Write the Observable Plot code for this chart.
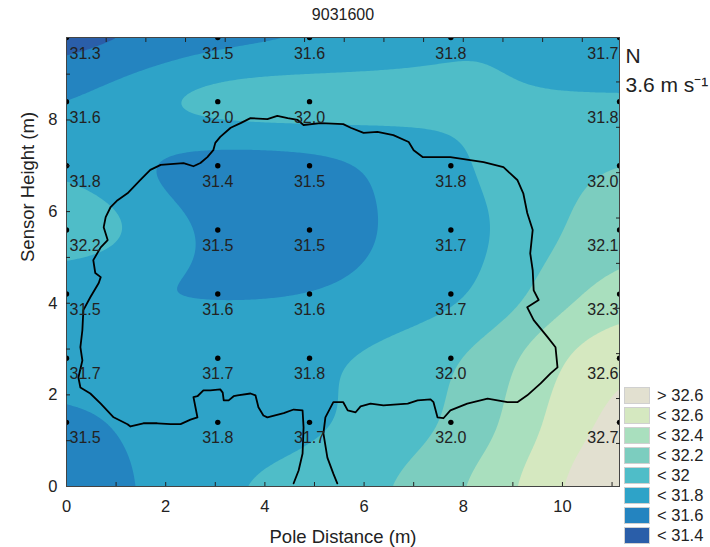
<!DOCTYPE html>
<html><head><meta charset="utf-8">
<script src="https://cdn.jsdelivr.net/npm/d3@7"></script>
<script src="https://cdn.jsdelivr.net/npm/@observablehq/plot@0.6"></script>
<style>
body{margin:0;background:#fff;font-family:"Liberation Sans",Arial,sans-serif;}
#wrap{position:relative;width:710px;height:547px;}
#legend{position:absolute;left:624px;top:385px;font-size:16.5px;color:#222;line-height:1;}
.row{display:flex;align-items:center;height:20px;}
.sw{width:26px;height:17px;box-sizing:border-box;border:1px solid #d0d0d0;margin-right:7px;}
</style></head><body><div id="wrap"></div>
<script>
// ---- data ----
const title = "9031600";
const windDir = "N";
const windSpeed = "3.6 m s\u207B\u00B9";
const xLabel = "Pole Distance (m)";
const yLabel = "Sensor Height (m)";

const xPositions = [0, 3.05, 4.9, 7.75, 11.15];
const yPositions = [9.8, 8.4, 7.0, 5.6, 4.2, 2.8, 1.4];
const row98 = [31.25, 31.46, 31.55, 31.84, 31.7];
const row84 = [31.55, 32.04, 32.04, null, 31.8];
const row70 = [31.79, 31.36, 31.46, 31.81, 32.04];
const row56 = [32.16, 31.5, 31.5, 31.7, 32.14];
const row42 = [31.54, 31.58, 31.56, 31.7, 32.34];
const row28 = [31.74, 31.7, 31.78, 31.98, 32.64];
const row14 = [31.5, 31.78, 31.7, 32.0, 32.74];
// field at ground level (y = 0), estimated from the contour bands of the picture
const groundY = 0;
const groundRow = [31.35, 31.83, 31.82, 32.18, 32.85];

const contourThresholds = [31.2, 31.4, 31.6, 31.8, 32.0, 32.2, 32.4, 32.6];
const bandBreaks = [31.4, 31.6, 31.8, 32.0, 32.2, 32.4, 32.6];
const bandColors = ["#2a5ea9", "#2484c0", "#2ea3c8", "#4fbdc8", "#7ccdbf", "#a9dfbe", "#d5e8c0", "#e2e0d0"];
const legendLabels = ["< 31.4", "< 31.6", "< 31.8", "< 32", "< 32.2", "< 32.4", "< 32.6", "> 32.6"];

const xTickLabels = [0, 2, 4, 6, 8, 10];
const xMinorTicks = [1, 2, 3, 4, 5, 6, 7, 8, 9, 10, 11];
const xTopTicks = [0.8, 1.6, 2.4, 3.2, 4.0, 4.8, 5.6, 6.4, 7.2, 8.0, 8.8, 9.6, 10.4];
const yTickLabels = [0, 2, 4, 6, 8];
const yMinorTicks = [1, 2, 3, 4, 5, 6, 7, 8, 9];
const yRightTicks = [0.94, 1.92, 2.9, 3.89, 4.87, 5.86, 6.85, 7.84, 8.83];

// smoothing widths of the gridding (m)
const smoothX = 1.7;
const smoothY = 0.75;

// tree crown outline (m)
const outlineX = [5.46,5.38,5.26,5.18,5.22,5.38,5.58,5.67,5.83,5.93,6.13,6.39,6.88,7.08,7.34,7.40,7.48,7.60,7.74,8.08,8.49,8.89,9.09,9.29,9.56,9.76,9.90,9.86,9.70,9.42,9.29,9.52,9.42,9.40,9.35,9.40,9.29,9.21,9.09,8.81,8.41,7.74,7.18,7.00,6.90,6.59,6.27,5.99,5.73,5.58,5.12,4.78,4.66,4.46,4.25,4.05,3.71,3.51,3.31,3.10,3.00,2.96,2.84,2.70,2.56,2.36,2.16,1.90,1.69,1.49,1.23,1.03,0.89,0.79,0.75,0.83,0.69,0.54,0.58,0.69,0.65,0.48,0.34,0.32,0.28,0.32,0.24,0.28,0.48,0.69,0.95,1.23,1.29,1.55,1.83,2.10,2.30,2.50,2.64,2.60,2.56,2.64,2.76,2.90,3.10,3.15,3.17,3.27,3.37,3.45,3.71,3.81,3.87,3.97,4.05,4.38,4.58,4.76,4.78,4.76,4.68,4.58];
const outlineY = [0.07,0.28,0.63,1.16,1.51,1.84,1.84,1.66,1.62,1.75,1.81,1.77,1.81,1.88,1.90,1.84,1.51,1.49,1.66,1.81,1.92,1.84,1.84,1.99,2.25,2.47,2.60,3.04,3.26,3.63,3.91,4.07,4.28,4.72,5.09,5.60,5.97,6.40,6.69,6.97,7.08,7.19,7.19,7.34,7.52,7.67,7.74,7.72,7.83,7.91,7.93,7.89,8.00,8.04,8.09,8.02,8.04,7.93,7.83,7.63,7.50,7.34,7.19,7.06,6.99,7.06,7.04,7.02,6.91,6.69,6.40,6.25,6.10,5.88,5.66,5.38,5.22,4.94,4.66,4.57,4.44,4.13,3.85,3.41,3.04,2.75,2.38,2.16,2.03,1.81,1.51,1.36,1.31,1.38,1.38,1.36,1.36,1.46,1.51,1.73,1.95,1.97,2.10,2.10,2.12,2.05,1.88,1.88,1.97,1.99,2.03,1.99,1.73,1.55,1.51,1.60,1.68,1.66,1.29,0.72,0.35,0.07];

// ---- build tables ----
const xDomain = [0, 11.15];
const yDomain = [0, 9.8];
const rows = [row98, row84, row70, row56, row42, row28, row14];
const pts = [];
yPositions.forEach((y, i) => xPositions.forEach((x, j) => {
  const v = rows[i][j];
  if (v != null) pts.push({x, y, v, col: j});
}));
const field = pts.concat(xPositions.map((x, j) => ({x, y: groundY, v: groundRow[j]})));
const outline = outlineX.map((x, i) => ({x, y: outlineY[i]}));
const lastCol = xPositions.length - 1;
const fmt = d => d.v.toFixed(1);
const blank = () => "";

// gaussian-weighted gridding (smooth surface, like the original software's mesh)
function smoothGrid(index, width, height, X, Y, V) {
  const sx = smoothX * width / (xDomain[1] - xDomain[0]);
  const sy = smoothY * height / (yDomain[1] - yDomain[0]);
  const W = new Float64Array(width * height);
  for (let j = 0; j < height; ++j) {
    for (let i = 0; i < width; ++i) {
      let sw = 0, sv = 0;
      for (const k of index) {
        const dx = (X[k] - (i + 0.5)) / sx, dy = (Y[k] - (j + 0.5)) / sy;
        const w = Math.exp(-0.5 * (dx * dx + dy * dy));
        sw += w; sv += w * V[k];
      }
      W[j * width + i] = sv / sw;
    }
  }
  return W;
}

const plot = Plot.plot({
  width: 710, height: 547,
  marginLeft: 66, marginRight: 91, marginTop: 37, marginBottom: 61,
  style: {fontFamily: "Liberation Sans, Arial, sans-serif", fontSize: "16px", color: "#222", background: "white"},
  x: {domain: xDomain},
  y: {domain: yDomain},
  color: {type: "threshold", domain: bandBreaks, range: bandColors},
  marks: [
    Plot.contour(field, {x: "x", y: "y", fill: "v", thresholds: contourThresholds, interpolate: smoothGrid, stroke: "none"}),
    Plot.line(outline, {x: "x", y: "y", stroke: "black", strokeWidth: 1.8}),
    Plot.dot(pts, {x: "x", y: "y", r: 2.7, fill: "black", clip: true}),
    Plot.text(pts.filter(d => d.col === 0), {x: "x", y: "y", text: fmt, textAnchor: "start", dx: 3, dy: 16, fill: "#222"}),
    Plot.text(pts.filter(d => d.col > 0 && d.col < lastCol), {x: "x", y: "y", text: fmt, dy: 16, fill: "#222"}),
    Plot.text(pts.filter(d => d.col === lastCol), {x: "x", y: "y", text: fmt, textAnchor: "end", dx: -1, dy: 16, fill: "#222"}),
    Plot.frame({stroke: "#444"}),
    Plot.axisX({ticks: xTickLabels, tickSize: 0, tickPadding: 14, label: null, fontSize: 16.5}),
    Plot.axisX({ticks: xMinorTicks, tickSize: -4, tickFormat: blank, label: null}),
    Plot.axisX({anchor: "top", ticks: xTopTicks, tickSize: -4, tickFormat: blank, label: null}),
    Plot.axisY({ticks: yTickLabels, tickSize: 0, tickPadding: 9, label: null, fontSize: 16.5}),
    Plot.axisY({ticks: yMinorTicks, tickSize: -4, tickFormat: blank, label: null}),
    Plot.axisY({anchor: "right", ticks: yRightTicks, tickSize: -4, tickFormat: blank, label: null}),
    Plot.text([title], {frameAnchor: "top", dy: -29, text: d => d, fill: "#222"}),
    Plot.text([xLabel], {frameAnchor: "bottom", dy: 56, text: d => d, fill: "#222", fontSize: 18.5}),
    Plot.text([yLabel], {frameAnchor: "left", dx: -38, rotate: -90, text: d => d, fill: "#222", fontSize: 18.5}),
    Plot.text([windDir], {frameAnchor: "top-right", dx: 6, dy: 11, textAnchor: "start", fontSize: 21, text: d => d, fill: "#222"}),
    Plot.text([windSpeed], {frameAnchor: "top-right", dx: 6, dy: 40, textAnchor: "start", fontSize: 21, text: d => d, fill: "#222"})
  ]
});
const wrap = document.getElementById("wrap");
wrap.appendChild(plot);

// legend (top: highest band)
const legend = document.createElement("div");
legend.id = "legend";
for (let i = bandColors.length - 1; i >= 0; --i) {
  const row = document.createElement("div");
  row.className = "row";
  const sw = document.createElement("div");
  sw.className = "sw";
  sw.style.background = bandColors[i];
  const t = document.createElement("span");
  t.textContent = legendLabels[i];
  row.appendChild(sw); row.appendChild(t);
  legend.appendChild(row);
}
wrap.appendChild(legend);
</script>
</body></html>
